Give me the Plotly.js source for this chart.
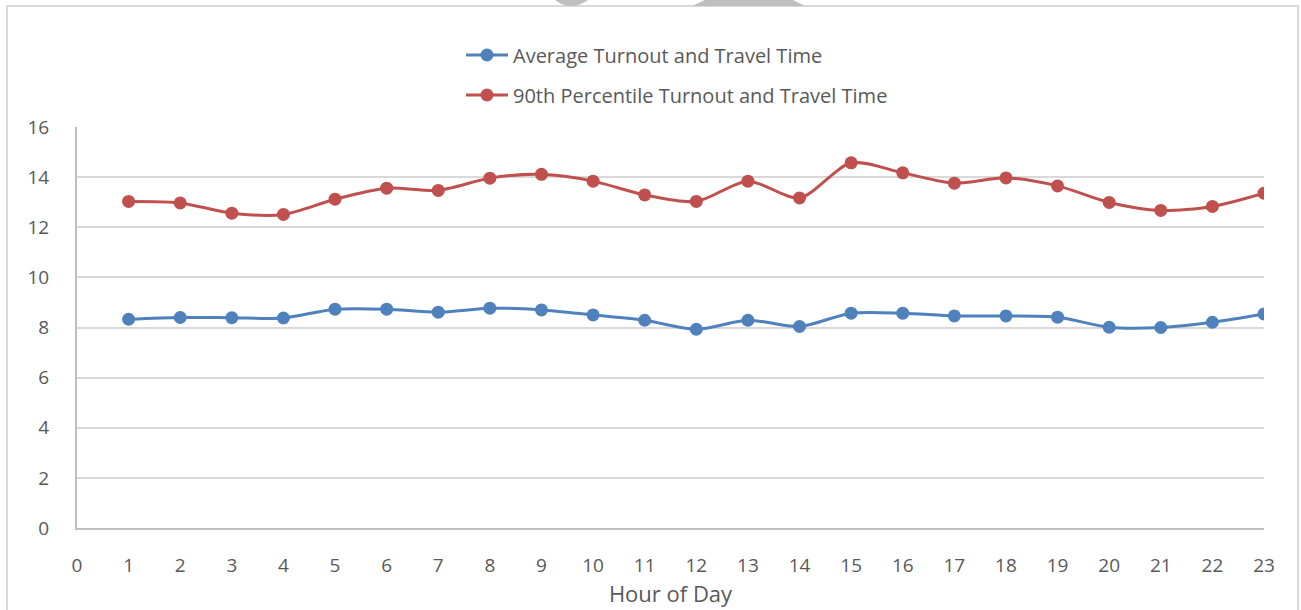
<!DOCTYPE html>
<html>
<head>
<meta charset="utf-8">
<script src="https://cdn.plot.ly/plotly-3.0.1.min.js"></script>
<style>
html,body{margin:0;padding:0;background:#fff;}
#chart{width:1301px;height:610px;}
</style>
</head>
<body>
<div id="chart"></div>
<script>
const hours = [1,2,3,4,5,6,7,8,9,10,11,12,13,14,15,16,17,18,19,20,21,22,23];
const averageTime = [8.33,8.40,8.39,8.38,8.73,8.73,8.61,8.77,8.70,8.50,8.29,7.93,8.29,8.04,8.57,8.57,8.46,8.46,8.41,8.01,8.00,8.21,8.54];
const p90Time = [13.03,12.97,12.56,12.51,13.12,13.56,13.47,13.96,14.11,13.84,13.29,13.03,13.84,13.17,14.57,14.17,13.76,13.97,13.65,12.99,12.67,12.83,13.36];
const xTicks = [0,1,2,3,4,5,6,7,8,9,10,11,12,13,14,15,16,17,18,19,20,21,22,23];
const yTicks = [0,2,4,6,8,10,12,14,16];
const seriesNames = ['Average Turnout and Travel Time','90th Percentile Turnout and Travel Time'];

const FONT = 'Open Sans, Liberation Sans, sans-serif';
const GRAY = '#595959';

const traces = [
  {x: hours, y: averageTime, name: seriesNames[0], type:'scatter', mode:'lines+markers',
   line:{color:'#4f81bd', width:3, shape:'spline', smoothing:0.8},
   marker:{color:'#4f81bd', size:13}, legend:'legend'},
  {x: hours, y: p90Time, name: seriesNames[1], type:'scatter', mode:'lines+markers',
   line:{color:'#c0504d', width:3, shape:'spline', smoothing:0.8},
   marker:{color:'#c0504d', size:13}, legend:'legend2'}
];

function px(v){return (v-77)/1187;}
function py(v){return (528-v)/401;}

const legendFont = {family:FONT, size:20, color:GRAY};
const layout = {
  width:1301, height:610,
  margin:{l:77, r:37, t:127, b:82, pad:0},
  paper_bgcolor:'#fff', plot_bgcolor:'#fff',
  font:{family:FONT, color:GRAY, size:19},
  showlegend:true,
  legend:{x:px(461), y:py(55), xanchor:'left', yanchor:'middle', bgcolor:'rgba(0,0,0,0)',
          itemwidth:42, font:legendFont},
  legend2:{x:px(461), y:py(95), xanchor:'left', yanchor:'middle', bgcolor:'rgba(0,0,0,0)',
          itemwidth:42, font:legendFont},
  xaxis:{range:[0,23], tickvals:xTicks, ticktext:xTicks.map(String), showgrid:false,
         zeroline:false, showline:true, linecolor:'#bfbfbf', linewidth:2,
         ticks:'', ticklabelstandoff:19, tickfont:{size:19, color:GRAY},
         title:{text:'Hour of Day', font:{size:22, color:GRAY}, standoff:6}, fixedrange:true},
  yaxis:{range:[0,16], tickvals:yTicks, ticktext:yTicks.map(String), showgrid:true,
         gridcolor:'#d9d9d9', gridwidth:2, zeroline:false, showline:true,
         linecolor:'#bfbfbf', linewidth:2, ticks:'', ticklabelstandoff:22,
         tickfont:{size:19, color:GRAY}, fixedrange:true},
  shapes:[
    {type:'rect', xref:'paper', yref:'paper', x0:px(7), x1:px(1298), y0:py(640), y1:py(6),
     line:{color:'#d9d9d9', width:2}, fillcolor:'rgba(0,0,0,0)', layer:'below'},
    {type:'path', xref:'paper', yref:'paper',
     path:'M'+px(555)+','+py(0)+' Q'+px(571)+','+py(12)+' '+px(588)+','+py(0)+' Z',
     fillcolor:'#bfbfbf', line:{width:0}},
    {type:'path', xref:'paper', yref:'paper',
     path:'M'+px(705)+','+py(0)+' L'+px(692)+','+py(6)+' L'+px(805)+','+py(6)+' L'+px(793)+','+py(0)+' Z',
     fillcolor:'#bfbfbf', line:{width:0}}
  ]
};

Plotly.newPlot('chart', traces, layout, {displayModeBar:false, staticPlot:true});
</script>
</body>
</html>
